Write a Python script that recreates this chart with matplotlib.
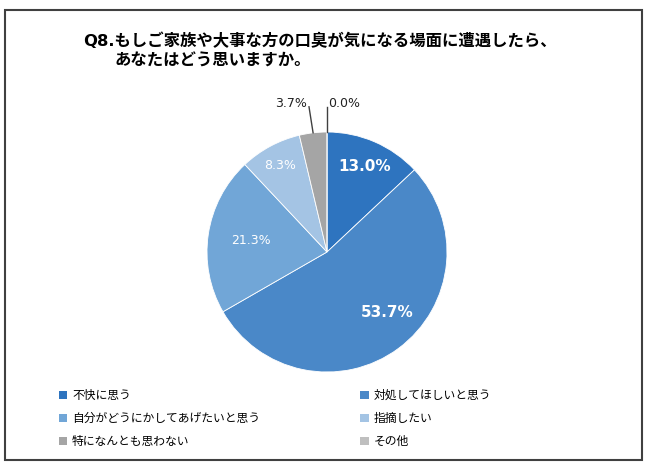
import numpy as np
import matplotlib

matplotlib.use("Agg")

import matplotlib.pyplot as plt
from matplotlib.patches import Rectangle, Patch

plt.rcParams['font.family'] = ['Noto Sans CJK JP', 'DejaVu Sans']

title_line1 = "Q8.もしご家族や大事な方の口臭が気になる場面に遭遇したら、"
title_line2 = "あなたはどう思いますか。"

labels = ["不快に思う", "対処してほしいと思う", "自分がどうにかしてあげたいと思う",
          "指摘したい", "特になんとも思わない", "その他"]
values = [13.0, 53.7, 21.3, 8.3, 3.7, 0.0]
colors = ["#2E74BF", "#4A88C8", "#71A6D7", "#A4C4E4", "#A5A5A5", "#BFBFBF"]

W, H = 650, 466
fig = plt.figure(figsize=(6.5, 4.66), dpi=100)

# outer frame
fig.patches.append(Rectangle((5 / W, 6 / H), 637 / W, 450 / H, transform=fig.transFigure,
                             fill=False, edgecolor="#404040", linewidth=1.5))

fig.text(83 / W, 1 - 41 / H, title_line1, fontsize=11.8, fontweight="bold", va="center",
         family=["DejaVu Sans", "Noto Sans CJK JP"])
fig.text(115 / W, 1 - 61 / H, title_line2, fontsize=11.8, fontweight="bold", va="center")

# pie: center (327, 252) px, radius 118 px
R = 118
half = 150
ax = fig.add_axes([(327 - half) / W, (H - 252 - half) / H, 2 * half / W, 2 * half / H])
ax.set_xlim(-half / R, half / R)
ax.set_ylim(-half / R, half / R)
ax.set_aspect("equal")
ax.axis("off")

wedges, _ = ax.pie(values, colors=colors, startangle=90, counterclock=False, radius=1,
                   wedgeprops=dict(edgecolor="white", linewidth=0.6))

num_font = "DejaVu Sans"

# inside labels
label_r = [0.78, 0.71, 0.64, 0.82]
label_shift = [0, 8, 0, 0]
label_style = [("bold", 11), ("bold", 11), ("normal", 9), ("normal", 9)]
for i in range(4):
    w = wedges[i]
    mid = np.deg2rad((w.theta1 + w.theta2) / 2 + label_shift[i])
    x, y = label_r[i] * np.cos(mid), label_r[i] * np.sin(mid)
    ax.text(x, y, f"{values[i]:.1f}%", ha="center", va="center", color="white",
            fontweight=label_style[i][0], fontsize=label_style[i][1], family=num_font)

# outside labels with leader lines
text_pos = [(-0.30, 1.24), (0.14, 1.24)]
line_end = [(-0.15, 1.21), (0.0, 1.21)]
for k, i in enumerate([4, 5]):
    w = wedges[i]
    mid = np.deg2rad((w.theta1 + w.theta2) / 2)
    ax.plot([np.cos(mid), line_end[k][0]], [np.sin(mid), line_end[k][1]],
            color="#404040", linewidth=1.0)
    ax.text(text_pos[k][0], text_pos[k][1], f"{values[i]:.1f}%", ha="center", va="center",
            fontsize=9, color="#222222", family=num_font)

# legend, 2 columns in row order
order = [0, 2, 4, 1, 3, 5]
handles = [Patch(facecolor=colors[i], label=labels[i]) for i in order]
fig.legend(handles=handles, ncol=2, frameon=False, fontsize=8.5,
           loc="upper left", bbox_to_anchor=(59 / W, 1 - 389 / H),
           handlelength=0.7, handleheight=0.7, handletextpad=0.4,
           columnspacing=8.5, labelspacing=0.85, borderaxespad=0, borderpad=0)

fig.savefig("out.png", dpi=100)
